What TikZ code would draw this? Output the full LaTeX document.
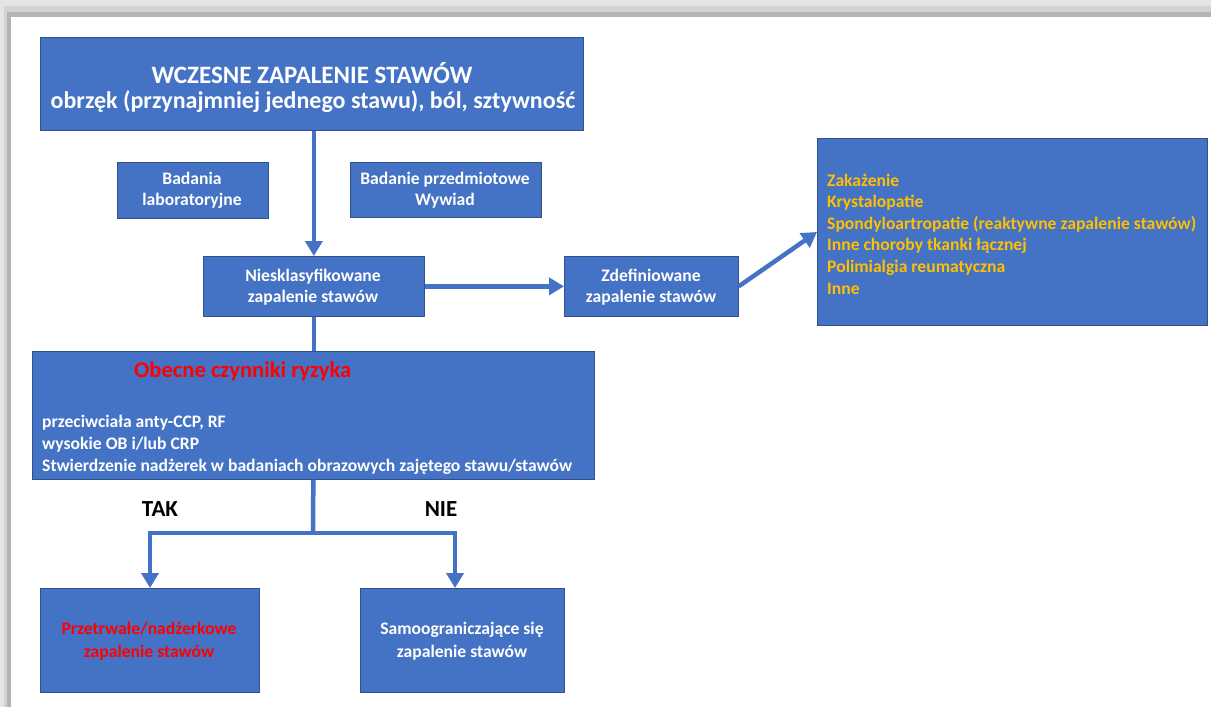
\documentclass[tikz,border=0pt]{standalone}
\usepackage{fontspec}
\setmainfont{Carlito}
\usetikzlibrary{arrows.meta}
\definecolor{blu}{HTML}{4472C4}
\definecolor{bord}{HTML}{2F528F}
\definecolor{gold}{HTML}{FFC000}
\definecolor{redt}{HTML}{FF0000}
\definecolor{g1}{HTML}{E4E4E4}
\definecolor{g2}{HTML}{D2D2D2}
\definecolor{g3}{HTML}{B4B4B4}
\begin{document}
\begin{tikzpicture}[x=1pt,y=-1pt,
 box/.style={draw=bord, line width=0.7pt, fill=blu, anchor=north west, inner sep=0pt},
 txt/.style={text=white, font=\bfseries\fontsize{17.6}{21}\selectfont, align=center, inner sep=0pt},
 big/.style={font=\bfseries\fontsize{23}{29}\selectfont},
 conn/.style={draw=blu, line width=4.5pt, line join=miter},
 arr/.style={conn, -{Triangle[length=15pt,width=17pt]}}]
\useasboundingbox (0,0) rectangle (1211,707);
\fill[white] (0,0) rectangle (1211,707);
% frame
\fill[g1] (0,0) rectangle (1211,6);
\fill[g2] (0,6) rectangle (1211,12);
\fill[g3] (0,12) rectangle (1211,17);
\fill[g1] (0,0) rectangle (4,707);
\fill[g2] (4,6) rectangle (7,707);
\fill[g3] (7,12) rectangle (11,707);

% boxes
\node[box, minimum width=543pt, minimum height=93pt] (top) at (40,37) {};
\node[box, minimum width=151pt, minimum height=56pt] (lab) at (117,162) {};
\node[box, minimum width=191pt, minimum height=55pt] (phys) at (350,162) {};
\node[box, minimum width=221pt, minimum height=60pt] (n) at (203,256) {};
\node[box, minimum width=174pt, minimum height=60pt] (z) at (564,256) {};
\node[box, minimum width=390pt, minimum height=187pt] (r) at (817,138) {};
\node[box, minimum width=562pt, minimum height=128pt] (risk) at (32,351) {};
\node[box, minimum width=219pt, minimum height=104pt] (pers) at (40,588) {};
\node[box, minimum width=204pt, minimum height=104pt] (self) at (360,588) {};

% texts
\node[txt, font=\bfseries\fontsize{25}{29}\selectfont] (toptitle) at (312,73) {WCZESNE ZAPALENIE STAWÓW};
\node[txt, font=\bfseries\fontsize{24}{29}\selectfont] (topsub) at (313,102) {obrzęk (przynajmniej jednego stawu), ból, sztywność};
\node[txt] (labtxt) at (192,190) {Badania\\laboratoryjne};
\node[txt] (phystxt) at (445,190) {Badanie przedmiotowe\\Wywiad};
\node[txt] (ntxt) at (313,287) {Niesklasyfikowane\\zapalenie stawów};
\node[txt] (ztxt) at (651,287) {Zdefiniowane\\zapalenie stawów};
\node[txt, text=gold, align=left, anchor=west, font=\bfseries\fontsize{17.6}{21.6}\selectfont] (rtxt) at (827,234)
 {Zakażenie\\Krystalopatie\\Spondyloartropatie (reaktywne zapalenie stawów)\\Inne choroby tkanki łącznej\\Polimialgia reumatyczna\\Inne};
\node[txt, text=redt, anchor=west, font=\bfseries\fontsize{22.6}{25}\selectfont] (risktitle) at (134,371) {Obecne czynniki ryzyka};
\node[txt, align=left, anchor=west, font=\bfseries\fontsize{17.6}{22}\selectfont] (risktxt) at (42,445)
 {przeciwciała anty-CCP, RF\\wysokie OB i/lub CRP\\Stwierdzenie nadżerek w badaniach obrazowych zajętego stawu/stawów};
\node[txt, text=black, big] (tak) at (160,509) {TAK};
\node[txt, text=black, big] (nie) at (441,509) {NIE};
\node[txt, text=redt, font=\bfseries\fontsize{17.6}{23}\selectfont] (perstxt) at (149,641) {Przetrwałe/nadżerkowe\\zapalenie stawów};
\node[txt, font=\bfseries\fontsize{17.6}{23}\selectfont] (selftxt) at (462,641) {Samoograniczające się\\zapalenie stawów};

% connectors
\coordinate (rin) at (817,232);
\coordinate (jc) at (313,533);
\coordinate (pl) at (150,588);
\coordinate (pr) at (455,588);
\draw[arr] (top.south -| n.north) -- (n.north);
\draw[arr] (n.east) -- (z.west);
\draw[arr] (z.east) -- (rin);
\draw[conn] (n.south) -- (n.south |- risk.north);
\draw[conn] (risk.south) -- (jc);
\draw[arr] (jc) -| (pl);
\draw[arr] (jc) -| (pr);
\end{tikzpicture}
\end{document}
